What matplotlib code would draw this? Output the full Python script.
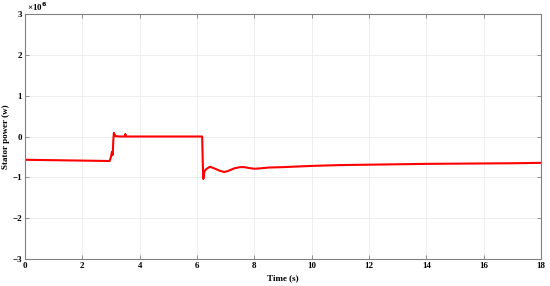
import matplotlib
matplotlib.use("Agg")
import matplotlib.pyplot as plt
import numpy as np

# Stator power (x 1e6 W) vs time (s)
time_s = [0.0, 1.0, 2.0, 2.95, 3.0, 3.03, 3.06, 3.08, 3.1, 3.15, 3.3, 3.48, 3.5, 3.52, 3.6,
          4.5, 5.5, 6.18, 6.2, 6.22, 6.26, 6.32, 6.45, 6.6, 6.8, 6.95, 7.1, 7.3, 7.5, 7.65,
          7.8, 8.0, 8.2, 8.5, 9.0, 10.0, 11.0, 12.0, 13.0, 14.0, 15.0, 16.0, 17.0, 18.0]
power = [-0.57, -0.58, -0.59, -0.60, -0.50, -0.38, -0.45, -0.10, 0.09, 0.01, 0.0, 0.0, 0.06, 0.0, 0.0,
         0.0, 0.0, 0.0, -0.60, -1.04, -0.85, -0.80, -0.74, -0.78, -0.84, -0.87, -0.84, -0.78, -0.75, -0.75,
         -0.77, -0.79, -0.78, -0.76, -0.75, -0.72, -0.70, -0.69, -0.68, -0.67, -0.665, -0.66, -0.655, -0.645]

x_ticks = [0, 2, 4, 6, 8, 10, 12, 14, 16, 18]
y_ticks = [-3, -2, -1, 0, 1, 2, 3]

plt.rcParams['font.family'] = ['Liberation Serif', 'DejaVu Serif']
plt.rcParams['font.weight'] = 'bold'

fig = plt.figure(figsize=(5.5, 2.86), dpi=100)
ax = fig.add_axes([0.0455, 0.0944, 0.938, 0.8566])
ax.plot(time_s, power, color='#ff0000', linewidth=1.5)

ax.set_xlim(0, 18)
ax.set_ylim(-3, 3)
ax.set_xticks(x_ticks)
ax.set_yticks(y_ticks)
ax.set_xticklabels([str(v) for v in x_ticks], fontsize=6.5, fontweight='bold')
ax.set_yticklabels([str(v).replace('-', '\u2212') for v in y_ticks], fontsize=6.5, fontweight='bold')
ax.grid(True, color='#ebebeb', linewidth=0.6)
ax.tick_params(direction='in', length=3, width=0.6, color='#808080', top=True, right=True, pad=2)
for s in ax.spines.values():
    s.set_color('#808080')
    s.set_linewidth(0.8)
ax.set_xlabel('Time (s)', fontsize=6.5, fontweight='bold', labelpad=3)
ax.set_ylabel('Stator power (w)', fontsize=6.5, fontweight='bold', labelpad=2)
ax.text(0.003, 1.005, '\u00d710$^{6}$', transform=ax.transAxes, fontsize=6.5, ha='left', va='bottom')

fig.savefig('out.png', dpi=100)
